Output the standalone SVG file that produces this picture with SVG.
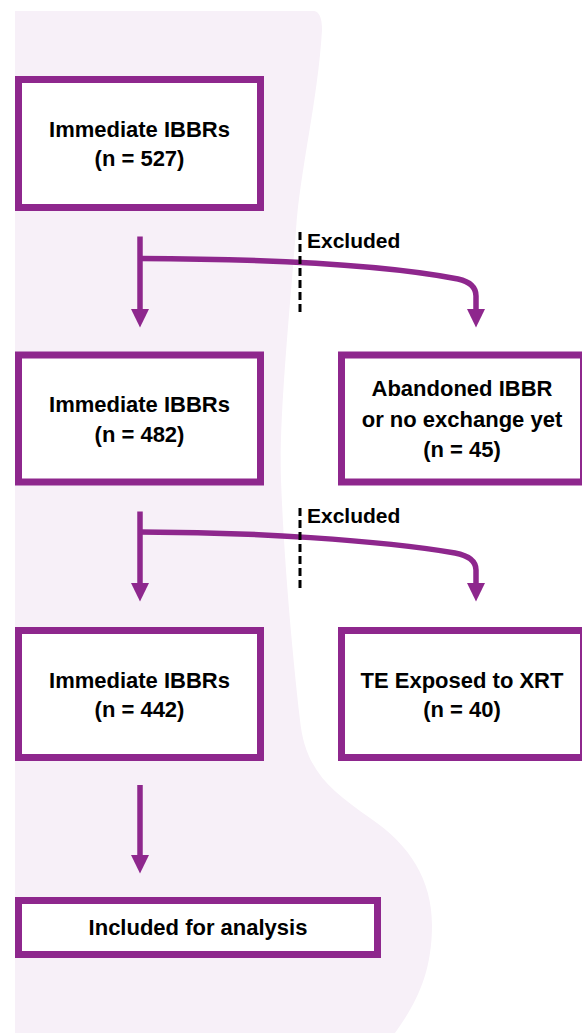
<svg xmlns="http://www.w3.org/2000/svg" width="582" height="1033" viewBox="0 0 582 1033">
  <style>
    .box { fill: #ffffff; stroke: #8E278D; stroke-width: 7; }
    .lbl { font-family: "Liberation Sans", Arial, sans-serif; font-weight: bold; font-size: 22px; fill: #000000; text-anchor: middle; }
    .exc { font-family: "Liberation Sans", Arial, sans-serif; font-weight: bold; font-size: 21px; fill: #000000; }
    .conn { fill: none; stroke: #8E278D; stroke-width: 5.5; }
    .dash { fill: none; stroke: #000000; stroke-width: 3; stroke-dasharray: 8 4; }
  </style>
  <defs>
    <marker id="ah" markerUnits="userSpaceOnUse" markerWidth="19" markerHeight="19" refX="1" refY="9" orient="auto">
      <path d="M0,0 L18.5,9 L0,18 Z" fill="#8E278D"/>
    </marker>
  </defs>

  <path id="background" d="M15,11 L314,11 Q322,12 322,30 C 318,100 300,170 296,230 C 288,330 279,420 281,480 C 284,560 292,650 300,720 C 305,770 330,790 370,818 C 410,845 432,880 432,925 C 432,975 415,1005 395,1033 L15,1033 Z" fill="#F7F0F8"/>

  <g id="connectors">
    <path class="conn" d="M140,236.5 V310" marker-end="url(#ah)"/>
    <path class="conn" d="M140,258.5 C 260,259 380,264 458,279 Q476,283 476,296 V310" marker-end="url(#ah)"/>
    <path class="dash" d="M300,232 V314"/>
    <path class="conn" d="M140,511.5 V584" marker-end="url(#ah)"/>
    <path class="conn" d="M140,532 C 250,532 380,540 455,553 Q476,557 476,570 V584" marker-end="url(#ah)"/>
    <path class="dash" d="M300,508 V588"/>
    <path class="conn" d="M140,785 V856" marker-end="url(#ah)"/>
    <text class="exc" x="307" y="248">Excluded</text>
    <text class="exc" x="307" y="523">Excluded</text>
  </g>

  <g id="node1">
    <rect class="box" x="18.5" y="79.5" width="242" height="128"/>
    <text class="lbl" x="139.5" y="136.5">Immediate IBBRs</text>
    <text class="lbl" x="139.5" y="166">(n = 527)</text>
  </g>
  <g id="node2">
    <rect class="box" x="18.5" y="355" width="242" height="127"/>
    <text class="lbl" x="139.5" y="412">Immediate IBBRs</text>
    <text class="lbl" x="139.5" y="441.5">(n = 482)</text>
  </g>
  <g id="node3">
    <rect class="box" x="341.5" y="355" width="242" height="127"/>
    <text class="lbl" x="462" y="396">Abandoned IBBR</text>
    <text class="lbl" x="462" y="426.5">or no exchange yet</text>
    <text class="lbl" x="462" y="457">(n = 45)</text>
  </g>
  <g id="node4">
    <rect class="box" x="18.5" y="630.5" width="242" height="127"/>
    <text class="lbl" x="139.5" y="687.5">Immediate IBBRs</text>
    <text class="lbl" x="139.5" y="717">(n = 442)</text>
  </g>
  <g id="node5">
    <rect class="box" x="341.5" y="630.5" width="242" height="127"/>
    <text class="lbl" x="462" y="687.5">TE Exposed to XRT</text>
    <text class="lbl" x="462" y="717">(n = 40)</text>
  </g>
  <g id="node6">
    <rect class="box" x="18.5" y="900.5" width="359" height="54"/>
    <text class="lbl" x="198" y="935">Included for analysis</text>
  </g>
</svg>
